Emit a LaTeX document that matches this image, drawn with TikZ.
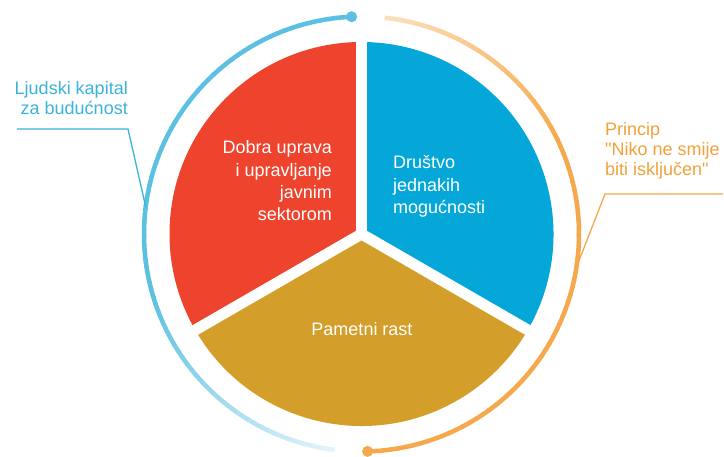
\documentclass[tikz,border=0pt]{standalone}
\usepackage{fontspec}
\setmainfont{Liberation Sans}
\newfontfamily\lblfont{Liberation Sans}
\usetikzlibrary{calc}
\definecolor{ringblue}{HTML}{5BC0E1}
\definecolor{secblue}{HTML}{05A7D9}
\definecolor{secred}{HTML}{EE432D}
\definecolor{secgold}{HTML}{D39E2A}
\definecolor{ringorange}{HTML}{F6A94C}
\definecolor{lblblue}{HTML}{3AB3DD}
\definecolor{lblorange}{HTML}{F2A13A}
\tikzset{
  outlbl/.style={inner sep=0pt, font=\lblfont\fontsize{18}{20}\selectfont},
  seclbl/.style={inner sep=0pt, text=white, font=\lblfont\fontsize{18}{22.3}\selectfont},
  leader/.style={line width=1.3pt},
  gapline/.style={white, line width=11pt},
}
\begin{document}
\begin{tikzpicture}[x=1pt,y=1pt]
\fill[white] (0,0) rectangle (724,456);
\useasboundingbox (0,0) rectangle (724,456);
\coordinate (c) at (361.5,222);
% pie sectors
\fill[secred] (c) -- ++(90:192pt) arc[start angle=90,end angle=210,radius=192pt] -- cycle;
\fill[secgold] (c) -- ++(210:192pt) arc[start angle=210,end angle=330,radius=192pt] -- cycle;
\fill[secblue] (c) -- ++(330:192pt) arc[start angle=330,end angle=450,radius=192pt] -- cycle;
\draw[gapline] (c) -- ++(90:200pt);
\draw[gapline] (c) -- ++(210:200pt);
\draw[gapline] (c) -- ++(330:200pt);
% blue ring (fading towards bottom)
\foreach \i in {0,...,84}{
  \pgfmathsetmacro\a{92.6+2*\i}
  \pgfmathtruncatemacro\p{\a<195 ? 100 : 100-85*(\a-195)/68}
  \draw[color=ringblue!\p!white, line width=4.5pt]
    (c) ++(\a:217.5pt) arc[start angle=\a, end angle=\a+2.3, radius=217.5pt];
}
% orange ring (fading towards top)
\foreach \i in {0,...,85}{
  \pgfmathsetmacro\a{-88.4+2*\i}
  \pgfmathtruncatemacro\p{\a<25 ? 100 : 100-65*(\a-25)/59}
  \draw[color=ringorange!\p!white, line width=4.5pt]
    (c) ++(\a:217.5pt) arc[start angle=\a, end angle=\a+2.3, radius=217.5pt];
}
\fill[ringblue] (c) ++(92.6:217.5pt) circle[radius=5.5pt];
\fill[ringorange] (c) ++(-88.4:217.5pt) circle[radius=5.5pt];
% leaders
\coordinate (la) at (17,327);
\coordinate (lb) at (128,327);
\coordinate (lc) at ($(c)+(172.8:217.5pt)$);
\coordinate (ra) at (723,262);
\coordinate (rb) at (605,262);
\coordinate (rc) at ($(c)+(-8.8:217.5pt)$);
\draw[leader, lblblue] (la) -- (lb) -- (lc);
\draw[leader, ringorange] (ra) -- (rb) -- (rc);
% labels
\node[outlbl, text=lblblue, anchor=east, align=right] (ljud) at (128,357.5) {Ljudski kapital\\za budućnost};
\node[outlbl, text=lblorange, anchor=west, align=left] (princ) at (605,305.5) {Princip\\"Niko ne smije\\biti isključen"};
\node[seclbl, anchor=east, align=right] (dobra) at (332,275) {Dobra uprava\\i upravljanje\\javnim\\sektorom};
\node[seclbl, anchor=west, align=left] (drus) at (393,269.5) {Društvo\\jednakih\\mogućnosti};
\node[seclbl, anchor=base] (pam) at (362,121) {Pametni rast};
\end{tikzpicture}
\end{document}
